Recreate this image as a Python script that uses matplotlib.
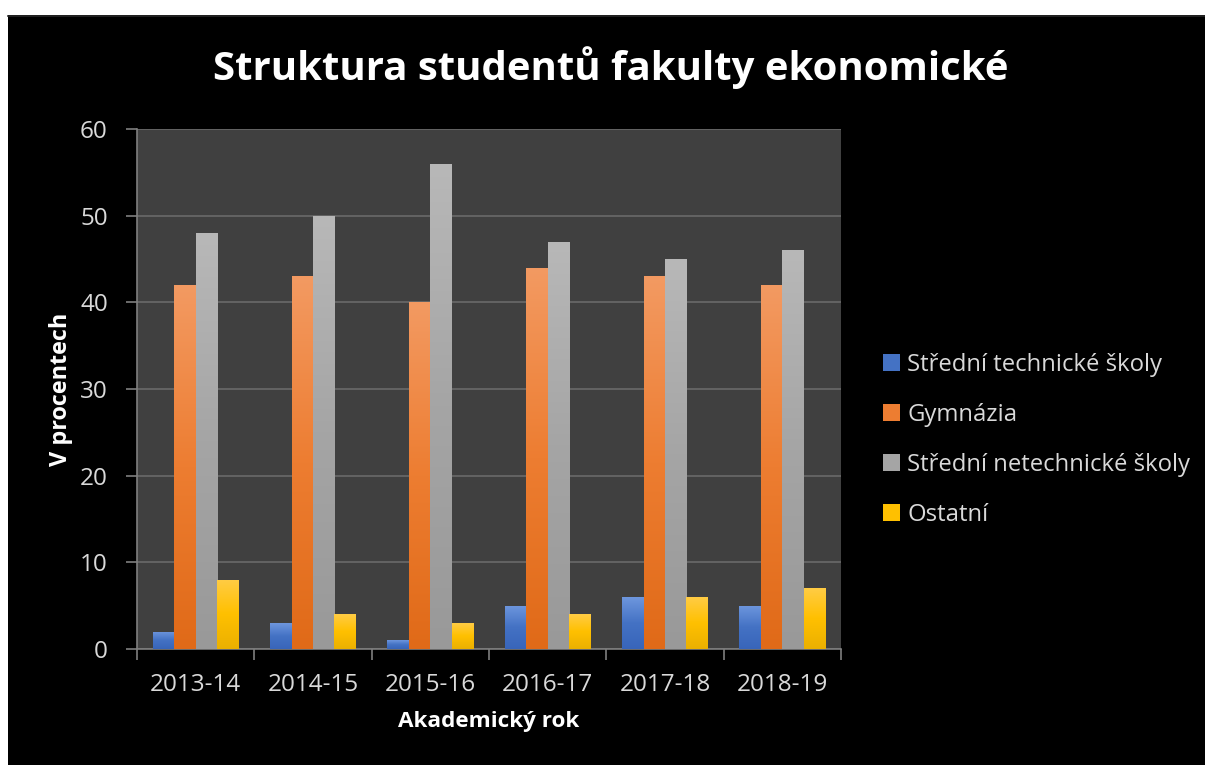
import matplotlib
matplotlib.use("Agg")
import matplotlib.pyplot as plt
import numpy as np
from matplotlib.colors import LinearSegmentedColormap
from matplotlib.patches import Rectangle, Patch
from matplotlib.lines import Line2D

years = ["2013-14", "2014-15", "2015-16", "2016-17", "2017-18", "2018-19"]
series_names = ["Střední technické školy", "Gymnázia",
                "Střední netechnické školy", "Ostatní"]
tech = [2, 3, 1, 5, 6, 5]
gym = [42, 43, 40, 44, 43, 42]
netech = [48, 50, 56, 47, 45, 46]
ostatni = [8, 4, 3, 4, 6, 7]
yticks = [0, 10, 20, 30, 40, 50, 60]

title = "Struktura studentů fakulty ekonomické"
xlabel = "Akademický rok"
ylabel = "V procentech"

# gradient stops: (top, middle, bottom)
grads = [
    ("#6E97DE", "#4472C4", "#3865BA"),
    ("#F39A62", "#ED7D31", "#E06A18"),
    ("#B8B8B8", "#A5A5A5", "#999999"),
    ("#FFCC45", "#FFC000", "#EBB000"),
]
solid = ["#4472C4", "#ED7D31", "#A5A5A5", "#FFC000"]

FONT = "Open Sans"
TXT = "#D9D9D9"

fig = plt.figure(figsize=(12.05, 7.65), dpi=100)
fig.patch.set_facecolor("white")
fig.add_artist(Rectangle((8 / 1205, -0.02), 1.05, 1.02 - 15 / 765, transform=fig.transFigure,
                         facecolor="black", edgecolor="none", zorder=0))
fig.add_artist(Line2D([8 / 1205, 1], [1 - 15.5 / 765, 1 - 15.5 / 765],
                      transform=fig.transFigure, color="#262626", lw=1.2, zorder=0.5))

ax = fig.add_axes([137 / 1205, 1 - 649 / 765, (841 - 137) / 1205, (649 - 129) / 765])
ax.set_facecolor("#404040")

x = np.arange(len(years))
w = 0.183
data = [tech, gym, netech, ostatni]
offsets = [-1.5, -0.5, 0.5, 1.5]
grad_img = np.linspace(1, 0, 256).reshape(-1, 1)

for vals, off, g, c, name in zip(data, offsets, grads, solid, series_names):
    bars = ax.bar(x + off * w, vals, width=w, color=c, label=name, zorder=2, lw=0)
    cmap = LinearSegmentedColormap.from_list("g", [g[2], g[1], g[0]])
    for b in bars:
        bx, bw, bh = b.get_x(), b.get_width(), b.get_height()
        im = ax.imshow(grad_img, cmap=cmap, extent=[bx, bx + bw, 0, bh],
                       aspect="auto", zorder=3, interpolation="bicubic")
        im.set_clip_path(b)

ax.set_xlim(-0.5, len(years) - 0.5)
ax.set_ylim(0, 60)
ax.set_yticks(yticks)
ax.set_yticklabels([str(v) for v in yticks], fontfamily=FONT, fontsize=17.5, color=TXT)
ax.set_xticks(x)
ax.set_xticklabels(years, fontfamily=FONT, fontsize=17.5, color=TXT)
ax.set_xticks(np.arange(-0.5, len(years), 1), minor=True)
ax.tick_params(axis="x", which="major", length=0, pad=17)
ax.tick_params(axis="x", which="minor", length=8, color="#7F7F7F", width=1.2)
ax.tick_params(axis="y", length=8, color="#7F7F7F", width=1.2, pad=13)
ax.grid(axis="y", color="#6A6A6A", lw=1.2, zorder=1)
ax.set_axisbelow(True)
for s in ["top", "right"]:
    ax.spines[s].set_visible(False)
for s in ["left", "bottom"]:
    ax.spines[s].set_color("#7F7F7F")
    ax.spines[s].set_linewidth(1.2)

ax.set_xlabel(xlabel, fontfamily=FONT, fontsize=16.2, fontweight="bold", color="white", labelpad=10)
ax.set_ylabel(ylabel, fontfamily=FONT, fontsize=16.8, fontweight="bold", color="white", labelpad=5)

fig.text(611 / 1205, 1 - 80 / 765, title, fontfamily=FONT, fontsize=28.9, fontweight="bold",
         color="white", ha="center", va="baseline")

handles = [Patch(facecolor=c, edgecolor="none") for c in solid]
leg = fig.legend(handles, series_names, loc="center left",
                 bbox_to_anchor=(883 / 1205, 1 - 440 / 765), frameon=False,
                 prop={"family": FONT, "size": 17.2}, labelcolor=TXT,
                 handlelength=0.72, handleheight=0.72, handletextpad=0.3,
                 labelspacing=1.08, borderpad=0, borderaxespad=0)

fig.savefig("out.png", dpi=100, facecolor=fig.get_facecolor())
